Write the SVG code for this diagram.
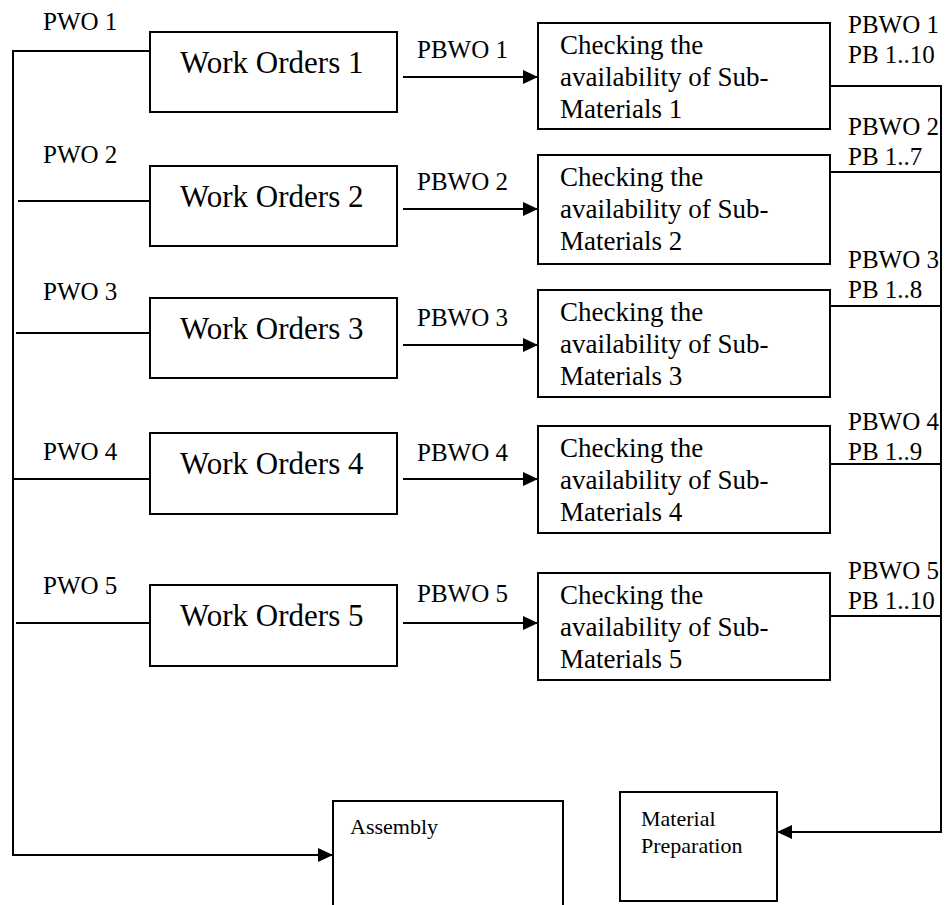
<svg xmlns="http://www.w3.org/2000/svg" width="946" height="905" viewBox="0 0 946 905" font-family="'Liberation Serif', 'DejaVu Serif', serif">
  <defs>
    <marker id="arrow" viewBox="0 0 15 14" refX="15" refY="7" markerWidth="15" markerHeight="14" markerUnits="userSpaceOnUse" orient="auto">
      <path d="M0,0 L15,7 L0,14 Z" fill="#000"/>
    </marker>
  </defs>
  <style>
    .box { fill: #fff; stroke: #000; stroke-width: 2; }
    .wire { fill: none; stroke: #000; stroke-width: 2; }
    .arrowed { marker-end: url(#arrow); }
    text { font-family: 'Liberation Serif', 'DejaVu Serif', serif; fill: #000; }
    .lbl { font-size: 25px; }
    .wo { font-size: 31px; }
    .chk { font-size: 27px; }
    .sm { font-size: 22px; }
  </style>

  <rect width="946" height="905" fill="#fff"/>

  <!-- connectors -->
  <g id="connectors">
    <!-- left trunk feeding the work orders and the assembly -->
    <path class="wire arrowed" d="M150,51 H13 V855 H333"/>
    <line class="wire" x1="18" y1="201" x2="150" y2="201"/>
    <line class="wire" x1="16" y1="333" x2="150" y2="333"/>
    <line class="wire" x1="13" y1="479" x2="150" y2="479"/>
    <line class="wire" x1="16" y1="623" x2="150" y2="623"/>

    <!-- work order to availability check -->
    <line class="wire arrowed" x1="403" y1="77" x2="538" y2="77"/>
    <line class="wire arrowed" x1="403" y1="209" x2="538" y2="209"/>
    <line class="wire arrowed" x1="403" y1="345" x2="538" y2="345"/>
    <line class="wire arrowed" x1="403" y1="479" x2="538" y2="479"/>
    <line class="wire arrowed" x1="403" y1="623" x2="538" y2="623"/>

    <!-- right trunk collecting the checks into material preparation -->
    <path class="wire arrowed" d="M830,86 H941 V832 H777"/>
    <line class="wire" x1="830" y1="172" x2="941" y2="172"/>
    <line class="wire" x1="830" y1="306" x2="941" y2="306"/>
    <line class="wire" x1="830" y1="464" x2="941" y2="464"/>
    <line class="wire" x1="830" y1="616" x2="941" y2="616"/>

    <!-- connector labels -->
    <g class="lbl">
      <text x="43" y="30">PWO 1</text>
      <text x="43" y="163">PWO 2</text>
      <text x="43" y="300">PWO 3</text>
      <text x="43" y="460">PWO 4</text>
      <text x="43" y="594">PWO 5</text>

      <text x="417" y="58">PBWO 1</text>
      <text x="417" y="190">PBWO 2</text>
      <text x="417" y="326">PBWO 3</text>
      <text x="417" y="461">PBWO 4</text>
      <text x="417" y="602">PBWO 5</text>

      <text x="848" y="33">PBWO 1</text>
      <text x="848" y="63">PB 1..10</text>
      <text x="848" y="135">PBWO 2</text>
      <text x="848" y="165">PB 1..7</text>
      <text x="848" y="268">PBWO 3</text>
      <text x="848" y="298">PB 1..8</text>
      <text x="848" y="430">PBWO 4</text>
      <text x="848" y="460">PB 1..9</text>
      <text x="848" y="579">PBWO 5</text>
      <text x="848" y="609">PB 1..10</text>
    </g>
  </g>

  <!-- work orders -->
  <g id="wo1"><rect class="box" x="150" y="32" width="247" height="80"/><text class="wo" x="180" y="73">Work Orders 1</text></g>
  <g id="wo2"><rect class="box" x="150" y="166" width="247" height="80"/><text class="wo" x="180" y="207">Work Orders 2</text></g>
  <g id="wo3"><rect class="box" x="150" y="298" width="247" height="80"/><text class="wo" x="180" y="339">Work Orders 3</text></g>
  <g id="wo4"><rect class="box" x="150" y="433" width="247" height="81"/><text class="wo" x="180" y="474">Work Orders 4</text></g>
  <g id="wo5"><rect class="box" x="150" y="585" width="247" height="81"/><text class="wo" x="180" y="626">Work Orders 5</text></g>

  <!-- availability checks -->
  <g id="check1"><rect class="box" x="538" y="23" width="292" height="106"/>
    <text class="chk" x="560" y="54">Checking the</text><text class="chk" x="560" y="86">availability of Sub-</text><text class="chk" x="560" y="118">Materials 1</text></g>
  <g id="check2"><rect class="box" x="538" y="155" width="292" height="109"/>
    <text class="chk" x="560" y="186">Checking the</text><text class="chk" x="560" y="218">availability of Sub-</text><text class="chk" x="560" y="250">Materials 2</text></g>
  <g id="check3"><rect class="box" x="538" y="290" width="292" height="107"/>
    <text class="chk" x="560" y="321">Checking the</text><text class="chk" x="560" y="353">availability of Sub-</text><text class="chk" x="560" y="385">Materials 3</text></g>
  <g id="check4"><rect class="box" x="538" y="426" width="292" height="107"/>
    <text class="chk" x="560" y="457">Checking the</text><text class="chk" x="560" y="489">availability of Sub-</text><text class="chk" x="560" y="521">Materials 4</text></g>
  <g id="check5"><rect class="box" x="538" y="573" width="292" height="107"/>
    <text class="chk" x="560" y="604">Checking the</text><text class="chk" x="560" y="636">availability of Sub-</text><text class="chk" x="560" y="668">Materials 5</text></g>

  <!-- downstream stages -->
  <g id="assembly"><rect class="box" x="333" y="801" width="230" height="120"/><text class="sm" x="350" y="834">Assembly</text></g>
  <g id="material-preparation"><rect class="box" x="620" y="792" width="157" height="109"/>
    <text class="sm" x="641" y="826">Material</text><text class="sm" x="641" y="853">Preparation</text></g>
</svg>
